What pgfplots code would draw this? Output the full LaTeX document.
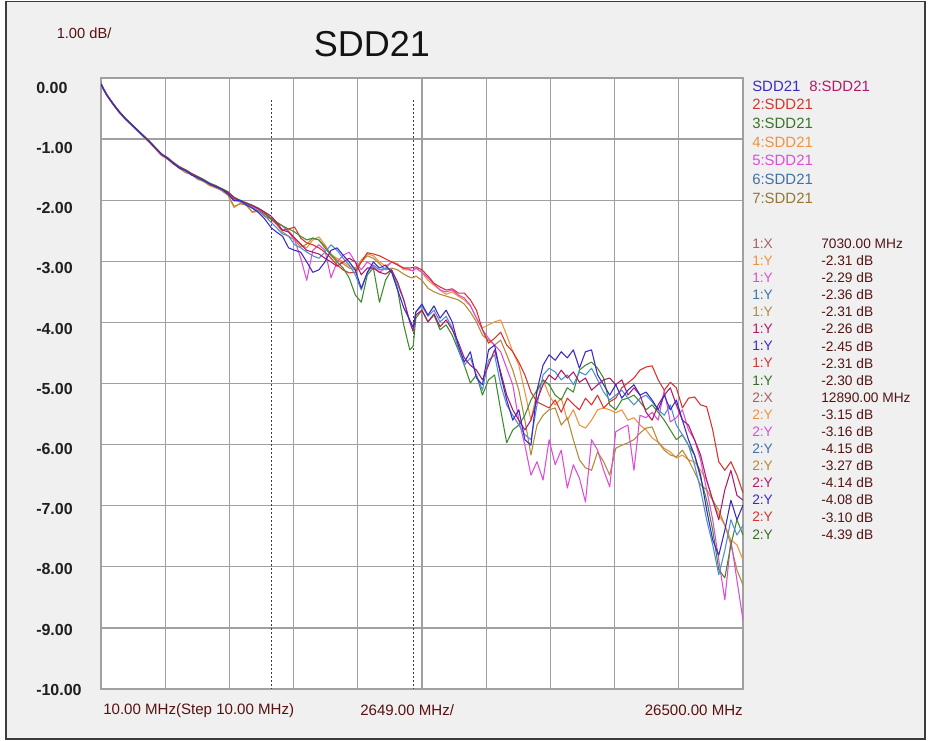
\documentclass[border=0pt]{standalone}
\usepackage{fontspec}
\setmainfont{Liberation Sans}
\usepackage{pgfplots}
\pgfplotsset{compat=1.18}
\usepackage{pgfplotstable}
\definecolor{bgc}{HTML}{F0F0F0}
\definecolor{framec}{HTML}{3C3C3C}
\definecolor{gridc}{HTML}{A0A0A0}
\definecolor{cA}{HTML}{3A2AC8}
\definecolor{cB}{HTML}{D8332E}
\definecolor{cC}{HTML}{3E8B2C}
\definecolor{cD}{HTML}{F2913D}
\definecolor{cE}{HTML}{E04CD8}
\definecolor{cF}{HTML}{4E8ED2}
\definecolor{cG}{HTML}{B38A36}
\definecolor{cH}{HTML}{B01A68}
\definecolor{valc}{HTML}{541414}
\definecolor{mxc}{HTML}{A86060}
\definecolor{labc}{HTML}{5A1010}

\pgfplotstableread{
f t1 t2 t3 t4 t5 t6 t7 t8
10 -0.10 -0.10 -0.08 -0.10 -0.10 -0.10 -0.10 -0.10
100 -0.17 -0.17 -0.16 -0.18 -0.17 -0.17 -0.18 -0.17
250 -0.28 -0.27 -0.27 -0.29 -0.28 -0.28 -0.28 -0.28
500 -0.42 -0.42 -0.41 -0.43 -0.42 -0.42 -0.43 -0.42
750 -0.55 -0.54 -0.54 -0.56 -0.55 -0.55 -0.56 -0.55
1000 -0.66 -0.66 -0.65 -0.67 -0.66 -0.66 -0.67 -0.66
1500 -0.85 -0.85 -0.84 -0.86 -0.85 -0.86 -0.86 -0.85
2000 -1.04 -1.03 -1.03 -1.05 -1.04 -1.04 -1.05 -1.04
2500 -1.24 -1.25 -1.24 -1.27 -1.25 -1.24 -1.26 -1.25
2750 -1.32 -1.31 -1.30 -1.33 -1.31 -1.32 -1.32 -1.30
3000 -1.39 -1.40 -1.38 -1.41 -1.40 -1.39 -1.41 -1.40
3250 -1.48 -1.46 -1.45 -1.47 -1.46 -1.47 -1.48 -1.46
3500 -1.51 -1.52 -1.50 -1.54 -1.52 -1.52 -1.55 -1.51
3750 -1.59 -1.57 -1.56 -1.58 -1.58 -1.57 -1.58 -1.57
4000 -1.63 -1.62 -1.61 -1.65 -1.63 -1.64 -1.66 -1.62
4250 -1.68 -1.67 -1.66 -1.70 -1.68 -1.69 -1.69 -1.67
4500 -1.73 -1.74 -1.72 -1.76 -1.74 -1.73 -1.76 -1.74
4750 -1.78 -1.77 -1.76 -1.79 -1.78 -1.78 -1.80 -1.77
5000 -1.82 -1.83 -1.81 -1.85 -1.82 -1.83 -1.84 -1.82
5250 -1.90 -1.87 -1.86 -1.92 -1.88 -1.89 -1.91 -1.87
5500 -2.01 -1.97 -1.95 -2.12 -1.99 -2.00 -2.10 -1.96
5750 -2.00 -2.02 -2.00 -2.05 -2.03 -2.02 -2.06 -2.01
6000 -2.08 -2.05 -2.04 -2.07 -2.06 -2.07 -2.08 -2.05
6250 -2.13 -2.09 -2.08 -2.20 -2.10 -2.12 -2.19 -2.09
6500 -2.20 -2.14 -2.13 -2.18 -2.15 -2.17 -2.16 -2.13
6750 -2.30 -2.22 -2.20 -2.26 -2.22 -2.25 -2.26 -2.19
7030 -2.45 -2.31 -2.30 -2.31 -2.29 -2.36 -2.31 -2.26
7250 -2.52 -2.39 -2.36 -2.36 -2.36 -2.45 -2.39 -2.36
7500 -2.59 -2.49 -2.42 -2.42 -2.42 -2.55 -2.52 -2.49
7750 -2.78 -2.47 -2.47 -2.50 -2.52 -2.59 -2.59 -2.52
8000 -2.82 -2.44 -2.52 -2.62 -2.65 -2.73 -2.65 -2.62
8250 -2.85 -2.62 -2.59 -2.73 -2.95 -2.78 -2.77 -2.72
8500 -3.01 -2.70 -2.65 -2.78 -3.31 -2.85 -2.72 -2.82
8750 -3.18 -2.73 -2.62 -2.65 -2.82 -2.91 -2.62 -2.85
9000 -3.14 -2.78 -2.65 -2.60 -2.73 -2.95 -2.65 -2.88
9250 -3.01 -2.85 -2.78 -2.73 -2.82 -2.85 -2.75 -2.95
9500 -2.82 -2.95 -2.90 -2.90 -3.27 -2.73 -2.88 -3.01
9750 -2.78 -3.06 -3.01 -2.95 -3.01 -2.82 -2.98 -3.08
10000 -2.90 -3.14 -3.11 -3.01 -2.90 -2.95 -3.04 -3.01
10250 -3.01 -3.19 -3.27 -3.08 -2.85 -3.06 -3.11 -2.95
10500 -3.14 -3.18 -3.55 -3.11 -3.01 -3.22 -3.14 -3.01
10750 -3.44 -3.01 -3.67 -2.98 -3.14 -3.47 -3.01 -3.22
11000 -3.18 -2.86 -3.22 -2.88 -3.01 -3.18 -2.91 -3.11
11250 -3.01 -2.88 -3.11 -2.91 -3.08 -3.06 -2.95 -3.11
11500 -3.11 -2.91 -3.67 -3.01 -3.18 -3.14 -3.04 -3.18
11750 -3.06 -2.96 -3.31 -3.08 -3.11 -3.11 -3.14 -3.21
12000 -3.18 -3.01 -3.14 -3.01 -3.01 -3.14 -3.11 -3.14
12250 -3.47 -3.06 -3.47 -3.04 -3.06 -3.39 -3.14 -3.34
12500 -3.76 -3.11 -4.04 -3.14 -3.11 -3.63 -3.21 -3.63
12750 -3.96 -3.11 -4.45 -3.14 -3.14 -3.99 -3.26 -3.99
12890 -4.08 -3.10 -4.39 -3.15 -3.16 -4.15 -3.27 -4.14
13000 -3.83 -3.09 -3.93 -3.11 -3.11 -3.83 -3.24 -3.88
13250 -3.70 -3.14 -3.80 -3.18 -3.18 -3.73 -3.31 -3.80
13500 -3.88 -3.24 -3.99 -3.31 -3.27 -3.90 -3.44 -3.99
13750 -3.73 -3.36 -3.88 -3.39 -3.37 -3.80 -3.50 -3.86
14000 -3.93 -3.42 -4.12 -3.47 -3.47 -3.99 -3.54 -4.07
14250 -3.80 -3.47 -4.04 -3.54 -3.50 -3.90 -3.57 -3.96
14500 -3.99 -3.45 -4.21 -3.50 -3.47 -4.09 -3.60 -4.12
14750 -4.37 -3.52 -4.45 -3.57 -3.55 -4.42 -3.63 -4.32
15000 -4.65 -3.52 -4.70 -3.63 -3.60 -4.70 -3.70 -4.58
15250 -4.48 -3.63 -4.99 -3.73 -3.72 -4.58 -3.83 -4.70
15500 -4.91 -3.80 -4.86 -3.93 -3.93 -4.86 -3.99 -4.78
15750 -5.02 -4.12 -5.19 -4.09 -4.12 -5.11 -4.21 -4.94
16000 -4.45 -4.34 -4.94 -4.04 -4.26 -4.62 -4.29 -4.70
16250 -4.37 -4.26 -4.86 -3.99 -4.37 -4.53 -4.37 -4.45
16500 -4.86 -4.16 -5.43 -3.96 -4.48 -5.02 -4.29 -4.81
16750 -5.27 -4.37 -5.97 -4.21 -4.75 -5.35 -4.53 -5.19
17000 -5.60 -4.48 -5.76 -4.48 -5.02 -5.52 -4.78 -5.43
17250 -5.43 -4.65 -5.68 -4.70 -5.60 -5.68 -5.11 -5.60
17500 -5.92 -4.86 -5.52 -5.14 -6.01 -5.84 -5.60 -5.76
17750 -6.01 -5.14 -5.27 -5.60 -6.50 -5.92 -6.17 -5.60
18000 -5.11 -5.30 -5.11 -5.14 -6.28 -5.35 -5.68 -5.27
18250 -4.70 -5.35 -4.94 -4.94 -6.58 -4.86 -5.52 -5.02
18500 -4.53 -5.40 -5.02 -5.19 -5.92 -4.75 -5.43 -4.86
18750 -4.62 -5.27 -5.19 -5.35 -6.33 -4.81 -5.40 -4.94
19000 -4.48 -5.47 -5.27 -5.24 -6.09 -4.94 -5.68 -4.78
19250 -4.58 -5.24 -5.07 -5.60 -6.71 -4.86 -5.56 -4.91
19500 -4.45 -5.34 -5.14 -5.43 -6.33 -5.02 -5.92 -4.81
19750 -4.75 -5.43 -4.78 -5.68 -6.55 -4.81 -6.25 -4.98
20000 -4.48 -5.24 -4.70 -5.73 -6.94 -4.86 -6.38 -4.91
20250 -4.45 -5.35 -4.65 -5.60 -5.92 -4.75 -6.42 -5.11
20500 -4.86 -5.19 -4.75 -5.43 -6.09 -4.94 -6.12 -5.02
20750 -5.02 -5.40 -4.91 -5.40 -6.42 -5.14 -6.28 -4.94
21000 -5.19 -5.30 -5.35 -5.43 -6.69 -5.27 -6.50 -4.91
21250 -5.02 -5.24 -5.43 -5.48 -5.79 -5.19 -6.06 -5.02
21500 -5.24 -5.07 -5.27 -5.43 -5.73 -5.11 -6.01 -4.94
21750 -5.11 -4.99 -5.24 -5.60 -5.68 -5.24 -5.97 -5.19
22000 -5.02 -4.91 -5.19 -5.56 -6.42 -5.35 -5.92 -5.07
22250 -5.19 -4.78 -5.30 -5.68 -5.52 -5.24 -5.81 -5.19
22500 -5.14 -4.73 -5.43 -5.76 -5.56 -5.19 -5.73 -5.47
22750 -5.27 -4.71 -5.35 -5.89 -5.47 -5.30 -5.71 -5.60
23000 -5.43 -4.94 -5.47 -5.96 -5.60 -5.43 -5.96 -5.35
23250 -5.19 -5.11 -5.60 -6.06 -5.11 -5.52 -6.09 -5.19
23500 -5.43 -4.98 -5.76 -6.12 -5.63 -5.35 -6.17 -5.07
23750 -5.27 -5.07 -5.92 -6.22 -5.56 -5.68 -6.20 -5.35
24000 -5.60 -5.40 -5.84 -6.17 -5.43 -5.84 -6.09 -5.60
24250 -5.92 -5.24 -6.01 -6.25 -5.76 -6.01 -6.25 -5.68
24500 -6.17 -5.22 -6.17 -6.28 -5.92 -6.33 -6.45 -5.92
24750 -6.50 -5.35 -6.55 -6.42 -6.25 -6.74 -6.66 -6.17
25000 -7.07 -5.38 -6.91 -6.58 -6.74 -7.23 -6.74 -6.58
25250 -7.56 -5.76 -7.40 -6.91 -7.23 -7.64 -6.91 -6.91
25500 -7.81 -6.28 -8.05 -7.15 -7.89 -8.13 -7.07 -7.23
25750 -7.40 -6.42 -8.18 -7.32 -8.54 -7.73 -7.32 -6.74
26000 -6.91 -6.28 -7.64 -7.56 -7.56 -7.23 -7.64 -6.42
26250 -7.23 -6.50 -7.23 -7.64 -8.22 -7.48 -8.05 -6.83
26500 -6.99 -6.79 -7.48 -7.89 -8.87 -7.32 -8.30 -6.91
}\sdd

\newcommand{\mrow}[4]{%
  \node[anchor=west,text=#2] at (752,#1) {#3};
  \node[anchor=west,text=valc] at (821,#1) {#4};}

\begin{document}
\begin{tikzpicture}
\begin{scope}[x=0.75pt,y=-0.75pt]
\path[use as bounding box] (0,0) rectangle (930,740);
\fill[white] (0,0) rectangle (930,740);
\filldraw[fill=bgc, draw=framec, line width=0.9pt] (6,1.5) rectangle (925,739);
\end{scope}

\begin{axis}[
  at={(75.75pt,-58.5pt)}, anchor=north west,
  scale only axis, width=481.5pt, height=458.25pt,
  xmin=10, xmax=26500, ymin=-10, ymax=0,
  xtick={10,2659,5308,7957,10606,13255,15904,18553,21202,23851,26500},
  ytick={-10,-9,-8,-7,-6,-5,-4,-3,-2,-1,0},
  scaled x ticks=false, scaled y ticks=false,
  xticklabels={}, yticklabels={},
  major tick length=0pt,
  grid=major,
  grid style={draw=gridc, line width=0.95pt},
  axis line style={draw=gridc, line width=0.95pt},
  axis background/.style={fill=white},
  every axis plot/.append style={line width=0.8pt, line join=round},
]
\addplot[draw=framec, line width=0.6pt, dash pattern=on 1.5pt off 1.5pt] coordinates {(7030,-0.36) (7030,-10)};
\addplot[draw=framec, line width=0.6pt, dash pattern=on 1.5pt off 1.5pt] coordinates {(12890,-0.36) (12890,-10)};
\addplot[cD] table[x=f,y=t4]{\sdd};
\addplot[cG] table[x=f,y=t7]{\sdd};
\addplot[cE] table[x=f,y=t5]{\sdd};
\addplot[cB] table[x=f,y=t2]{\sdd};
\addplot[cC] table[x=f,y=t3]{\sdd};
\addplot[cF] table[x=f,y=t6]{\sdd};
\addplot[cH] table[x=f,y=t8]{\sdd};
\addplot[cA] table[x=f,y=t1]{\sdd};
\end{axis}

\begin{scope}[x=0.75pt,y=-0.75pt, every node/.style={inner sep=0pt}]
\node[font=\fontsize{27}{30}\selectfont, text=black!92] at (372,44.5) {SDD21};
\node[anchor=west, font=\fontsize{11}{13}\selectfont, text=labc] at (56.5,33) {1.00 dB/};
\foreach \k in {0,...,10} {
  \node[anchor=west, font=\fontsize{12}{14}\selectfont\bfseries, text=black!88] at (36,87.7+60.2*\k) {\ifnum\k=0 0.00\else -\k.00\fi};
}
\begin{scope}[every node/.append style={font=\fontsize{11.3}{13}\selectfont}]
\node[anchor=west,text=labc] at (103,710.5) {10.00 MHz(Step 10.00 MHz)};
\node[anchor=west,text=labc] at (360,710.5) {2649.00 MHz/};
\node[anchor=east,text=labc] at (743,710.5) {26500.00 MHz};
\end{scope}
\begin{scope}[every node/.append style={font=\fontsize{11.2}{13}\selectfont, anchor=west}]
\node[text=cA] at (752,86) {SDD21};
\node[text=cH] at (809,86) {8:SDD21};
\node[text=cB] at (752,104.7) {2:SDD21};
\node[text=cC!85!black] at (752,123.3) {3:SDD21};
\node[text=cD] at (752,142) {4:SDD21};
\node[text=cE] at (752,160.7) {5:SDD21};
\node[text=cF!80!black] at (752,179.3) {6:SDD21};
\node[text=cG!85!black] at (752,198) {7:SDD21};
\end{scope}
\begin{scope}[every node/.append style={font=\fontsize{10.3}{12}\selectfont}]
\mrow{243.5}{mxc}{1:X}{7030.00 MHz}
\mrow{260.6}{cD}{1:Y}{-2.31 dB}
\mrow{277.7}{cE}{1:Y}{-2.29 dB}
\mrow{294.8}{cF!80!black}{1:Y}{-2.36 dB}
\mrow{311.9}{cG}{1:Y}{-2.31 dB}
\mrow{329.0}{cH}{1:Y}{-2.26 dB}
\mrow{346.1}{cA}{1:Y}{-2.45 dB}
\mrow{363.2}{cB}{1:Y}{-2.31 dB}
\mrow{380.3}{cC!80!black}{1:Y}{-2.30 dB}
\mrow{397.4}{mxc}{2:X}{12890.00 MHz}
\mrow{414.5}{cD}{2:Y}{-3.15 dB}
\mrow{431.6}{cE}{2:Y}{-3.16 dB}
\mrow{448.7}{cF!80!black}{2:Y}{-4.15 dB}
\mrow{465.8}{cG}{2:Y}{-3.27 dB}
\mrow{482.9}{cH}{2:Y}{-4.14 dB}
\mrow{500.0}{cA}{2:Y}{-4.08 dB}
\mrow{517.1}{cB}{2:Y}{-3.10 dB}
\mrow{534.2}{cC!80!black}{2:Y}{-4.39 dB}
\end{scope}
\end{scope}
\end{tikzpicture}
\end{document}
